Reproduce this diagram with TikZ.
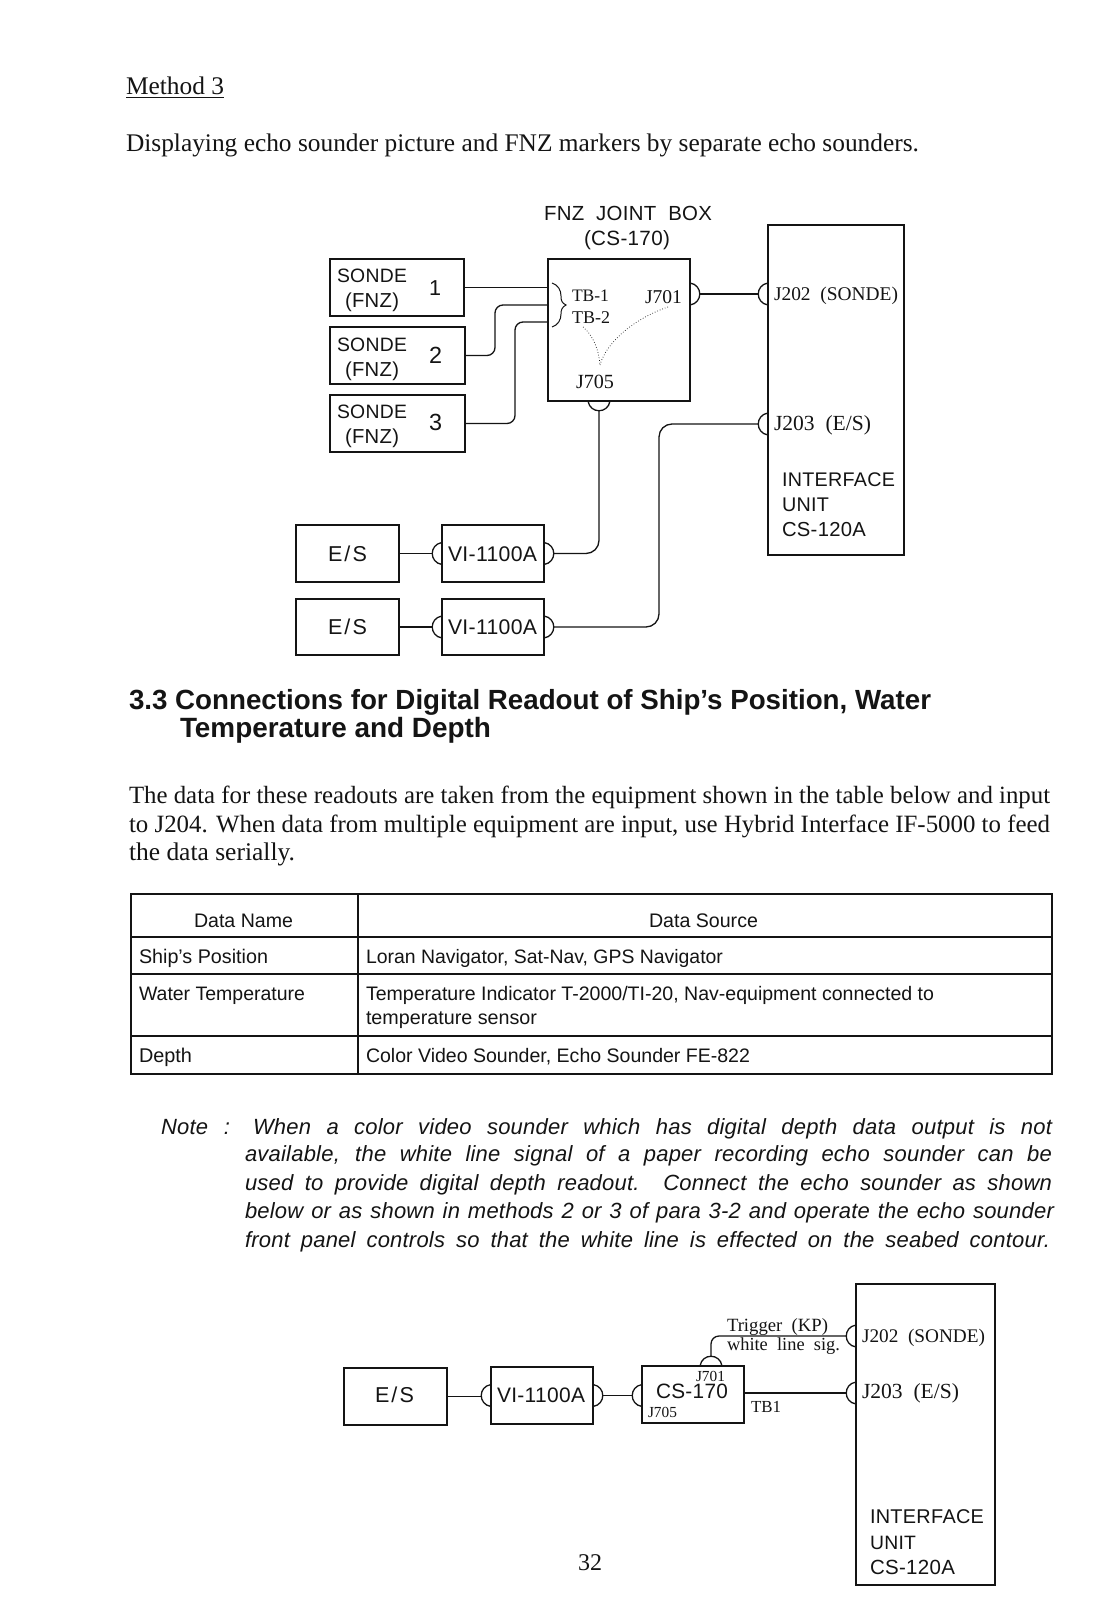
\documentclass[tikz,border=0pt]{standalone}
\usepackage{fontspec}
\usepackage{graphicx}
\setmainfont{Liberation Serif}
\setsansfont{Liberation Sans}
\newcounter{txc}
\tikzset{
  box/.style={draw=inkc,line width=1.7pt,inner sep=0pt,outer sep=0pt,fill=white},
  wire/.style={draw=inkc,line width=1.3pt,rounded corners=8pt},
  widewire/.style={wire,rounded corners=13pt},
  bump/.style={draw=inkc,line width=1.3pt},
  rule/.style={draw=inkc,line width=1.3pt},
  dotline/.style={draw=inkc,line width=0.7pt,dotted},
  txt/.style={anchor=base west,inner sep=0pt,outer sep=0pt,text=inkc}
}
\definecolor{inkc}{gray}{0.08}
% #1 x, #2 baseline, #3 width, #4 font, #5 text
\newcommand{\txl}[5]{\stepcounter{txc}\node[txt] (t\thetxc) at (#1,#2) {\resizebox{#3pt}{!}{#4#5}};}
% same, but the width is reached by stretching the word spaces
\newcommand{\txs}[5]{\stepcounter{txc}\node[txt] (t\thetxc) at (#1,#2) {\makebox[#3pt][s]{#4#5}};}
% #1 name, x1,y1,x2,y2
\newcommand{\boxn}[5]{%
  \pgfmathsetmacro{\bw}{#4-#2}\pgfmathsetmacro{\bh}{#5-#3}%
  \pgfmathsetmacro{\bx}{(#2+#4)/2}\pgfmathsetmacro{\by}{(#3+#5)/2}%
  \node[box,minimum width=\bw pt,minimum height=\bh pt] (#1) at (\bx,\by) {};}
\newcommand{\bumpr}[3]{\coordinate (#1) at (#2,#3); \coordinate (#1t) at (#2+10,#3);
  \draw[bump] (#2,#3-11) .. controls (#2+13,#3-9) and (#2+13,#3+9) .. (#2,#3+11);}
\newcommand{\bumpl}[3]{\coordinate (#1) at (#2,#3); \coordinate (#1t) at (#2-10,#3);
  \draw[bump] (#2,#3-11) .. controls (#2-13,#3-9) and (#2-13,#3+9) .. (#2,#3+11);}
\newcommand{\bumpd}[3]{\coordinate (#1) at (#2,#3); \coordinate (#1t) at (#2,#3+10);
  \draw[bump] (#2-11,#3) .. controls (#2-9,#3+13) and (#2+9,#3+13) .. (#2+11,#3);}
\newcommand{\bumpu}[3]{\coordinate (#1) at (#2,#3); \coordinate (#1t) at (#2,#3-10);
  \draw[bump] (#2-11,#3) .. controls (#2-9,#3-13) and (#2+9,#3-13) .. (#2+11,#3);}
\begin{document}
\begin{tikzpicture}[x=1pt,y=-1pt]
\useasboundingbox (0,0) rectangle (1119,1613);
\fill[white] (0,0) rectangle (1119,1613);
\def\ser{\rmfamily\fontsize{20}{24}\selectfont}
\def\san{\sffamily\fontsize{19}{24}\selectfont\addfontfeature{LetterSpace=1.5}}
\def\esf{\sffamily\fontsize{19}{24}\selectfont\addfontfeature{LetterSpace=10}}
\def\bsan{\sffamily\bfseries\fontsize{25}{30}\selectfont}
\def\ita{\sffamily\itshape\fontsize{22}{26}\selectfont\addfontfeature{LetterSpace=1}}
\def\itb{\ita\spaceskip=.12em plus .4em minus .05em\relax}
\def\tab{\sffamily\fontsize{19}{24}\selectfont}
% header
\txl{126}{95}{98}{\ser}{\underline{Method 3}}
\txl{126}{152}{793}{\ser}{Displaying echo sounder picture and FNZ markers by separate echo sounders.}
% ---- top diagram
\boxn{ifa}{768}{225}{904}{555}
\boxn{jb}{548}{259}{690}{401}
\boxn{s1}{330}{259}{464}{316}
\boxn{s2}{330}{327}{465}{384}
\boxn{s3}{330}{395}{465}{452}
\boxn{esa}{296}{525}{399}{582}
\boxn{via}{442}{525}{544}{582}
\boxn{esb}{296}{599}{399}{655}
\boxn{vib}{442}{599}{544}{655}
\bumpr{j701}{690}{294}
\bumpl{j202}{768}{294}
\bumpl{j203}{768}{424}
\bumpd{j705}{599}{401}
\bumpl{vial}{442}{553.5}
\bumpr{viar}{544}{553.5}
\bumpl{vibl}{442}{627}
\bumpr{vibr}{544}{627}
\draw[wire] (s1.east) -- (s1.east -| jb.west);
\coordinate (tbb) at (548,305);
\coordinate (tbc) at (548,322);
\draw[wire] (s2.east) -- (495,355.5) -- (495,305) -- (tbb);
\draw[wire] (s3.east) -- (515,423.5) -- (515,322) -- (tbc);
\draw[wire] (j701t) -- (j202t);
\draw[widewire] (j203t) -- (659,424) -- (659,627) -- (vibrt);
\draw[widewire] (j705t) -- (599,553.5) -- (viart);
\draw[wire] (esa.east) -- (vialt);
\draw[wire] (esb.east) -- (viblt);
% brace and dotted leaders
\coordinate (brt) at (552,283);
\coordinate (brb) at (552,327);
\draw[bump,line width=1pt] (brt) .. controls (558,285) and (561,290) .. (561,296) .. controls (561,301) and (562,303) .. (566,305) .. controls (562,307) and (561,310) .. (561,314) .. controls (561,320) and (558,325) .. (brb);
\coordinate (dj) at (600,365);
\coordinate (dtb) at (583,327);
\coordinate (djs) at (668,307);
\draw[dotline] (dtb) .. controls (593,335) and (599,350) .. (dj);
\draw[dotline] (djs) .. controls (638,317) and (607,340) .. (dj);
% top labels
\txl{544}{221}{168}{\san}{FNZ\ \ JOINT\ \ BOX}
\txl{584}{246}{86}{\san}{(CS-170)}
\txl{337}{283}{70}{\san}{SONDE}
\txl{345}{307}{54}{\san}{(FNZ)}
\txl{337}{351}{70}{\san}{SONDE}
\txl{345}{376}{54}{\san}{(FNZ)}
\txl{337}{418}{70}{\san}{SONDE}
\txl{345}{443}{54}{\san}{(FNZ)}
\txl{429}{295}{12}{\sffamily}{1}
\txl{429}{363}{13}{\sffamily}{2}
\txl{429}{430}{13}{\sffamily}{3}
\txl{572}{301}{37}{\ser}{TB-1}
\txl{572}{323}{38}{\ser}{TB-2}
\txl{645}{303}{37}{\ser}{J701}
\txl{576}{388}{38}{\ser}{J705}
\txl{774}{300}{124}{\ser}{J202\ \ (SONDE)}
\txl{774}{430}{97}{\ser}{J203\ \ (E/S)}
\txl{782}{486}{113}{\san}{INTERFACE}
\txl{782}{511}{47}{\san}{UNIT}
\txl{782}{536}{84}{\san}{CS-120A}
\txl{328}{561}{39}{\esf}{E/S}
\txl{328}{634}{39}{\esf}{E/S}
\txl{448}{561}{89}{\san}{VI-1100A}
\txl{448}{634}{89}{\san}{VI-1100A}
% heading
\txl{129}{709}{802}{\bsan}{3.3 Connections for Digital Readout of Ship's Position, Water}
\txl{180}{737}{311}{\bsan}{Temperature and Depth}
% paragraph
\txl{129}{803}{921}{\ser}{The data for these readouts are taken from the equipment shown in the table below and input}
\txl{129}{832}{921}{\ser}{to J204. When data from multiple equipment are input, use Hybrid Interface IF-5000 to feed}
\txl{129}{860}{166}{\ser}{the data serially.}
% table
\boxn{tbl}{131}{894}{1052}{1074}
\draw[rule] (358,894) -- (358,1074);
\draw[rule,line width=2.4pt] (131,937) -- (1052,937);
\draw[rule] (131,974) -- (1052,974);
\draw[rule] (131,1036) -- (1052,1036);
\txl{194}{927}{99}{\tab}{Data Name}
\txl{649}{927}{109}{\tab}{Data Source}
\txl{139}{963}{129}{\tab}{Ship's Position}
\txl{366}{963}{357}{\tab}{Loran Navigator, Sat-Nav, GPS Navigator}
\txl{139}{1000}{166}{\tab}{Water Temperature}
\txl{366}{1000}{568}{\tab}{Temperature Indicator T-2000/TI-20, Nav-equipment connected to}
\txl{366}{1024}{171}{\tab}{temperature sensor}
\txl{139}{1062}{53}{\tab}{Depth}
\txl{366}{1062}{384}{\tab}{Color Video Sounder, Echo Sounder FE-822}
% note
\txs{161}{1134}{69}{\ita}{Note :}
\txs{253}{1134}{799}{\ita}{When a color video sounder which has digital depth data output is not}
\txs{245}{1161}{807}{\ita}{available, the white line signal of a paper recording echo sounder can be}
\txs{245}{1190}{807}{\ita}{used to provide digital depth readout. Connect the echo sounder as shown}
\txs{245}{1218}{809}{\itb}{below or as shown in methods 2 or 3 of para 3-2 and operate the echo sounder}
\txs{245}{1247}{805}{\ita}{front panel controls so that the white line is effected on the seabed contour.}
% ---- bottom diagram
\boxn{ifb}{856}{1284}{995}{1585}
\boxn{esc}{344}{1368}{447}{1425}
\boxn{vic}{491}{1367}{593}{1424}
\boxn{cs}{642}{1366}{744}{1423}
\bumpl{vicl}{491}{1395.5}
\bumpr{vicr}{593}{1395.5}
\bumpl{csl}{642}{1395.5}
\bumpu{cst}{711}{1366}
\bumpl{jb202}{856}{1336}
\bumpl{jb203}{856}{1393}
\draw[wire] (esc.east) -- (esc.east -| viclt);
\draw[wire] (vicrt) -- (cslt);
\draw[wire] (cstt) -- (711,1336) -- (jb202t);
\draw[wire] (cs.east |- jb203t) -- (jb203t);
\txl{375}{1402}{39}{\esf}{E/S}
\txl{497}{1402}{88}{\san}{VI-1100A}
\txl{656}{1398}{72}{\san}{CS-170}
\txl{696}{1381}{29}{\ser}{J701}
\txl{648}{1417}{29}{\ser}{J705}
\txl{751}{1412}{30}{\ser}{TB1}
\txl{727}{1331}{101}{\ser}{Trigger\ \ (KP)}
\txl{727}{1350}{113}{\ser}{white\ \ line\ \ sig.}
\txl{862}{1342}{123}{\ser}{J202\ \ (SONDE)}
\txl{862}{1398}{97}{\ser}{J203\ \ (E/S)}
\txl{870}{1523}{114}{\san}{INTERFACE}
\txl{870}{1549}{46}{\san}{UNIT}
\txl{870}{1574}{85}{\san}{CS-120A}
\txl{578}{1570}{24}{\ser}{32}
\end{tikzpicture}
\end{document}
